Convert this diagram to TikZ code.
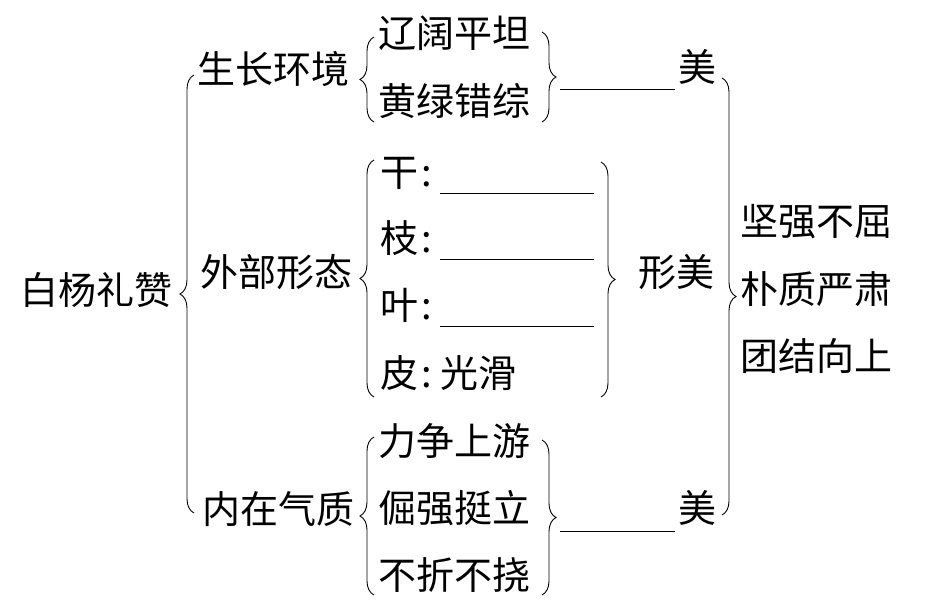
\documentclass[tikz,border=0pt]{standalone}
\usepackage{fontspec}
\newfontfamily\cjk{Noto Sans CJK SC}
\usetikzlibrary{decorations.pathreplacing}

\tikzset{
  word/.style={anchor=base west, inner sep=0pt, font=\cjk\fontsize{38}{40}\selectfont},
  colon/.style={anchor=base, inner sep=0pt, font=\cjk\fontsize{38}{40}\selectfont},
  bracel/.style={decorate, decoration={brace, amplitude=14pt}, line width=0.9pt},
  blank/.style={line width=0.9pt},
}

\begin{document}
\begin{tikzpicture}[x=1pt,y=-1pt]
\useasboundingbox (0,0) rectangle (925,608);
% root and first level
\node[word] (root) at (20,304) {白杨礼赞};
\node[word] (env) at (197,83) {生长环境};
\node[word] (shape) at (200,286) {外部形态};
\node[word] (inner) at (202,523) {内在气质};
\draw[bracel] (194,513) -- (194,75);
% environment
\node[word] (wide) at (378,47) {辽阔平坦};
\node[word] (mixed) at (378,115) {黄绿错综};
\draw[bracel] (374,122) -- (374,37);
\draw[bracel] (542,32) -- (542,122);
\node[word] (mei1) at (678,81) {美};
\draw[blank] (mei1.base west) ++(-3,8) -- ++(-115,0);
% outer shape
\node[word] (gan) at (380,186) {干};
\node[word] (zhi) at (380,252) {枝};
\node[word] (ye) at (380,319) {叶};
\node[word] (pi) at (380,387) {皮};
\node[colon] (ganc) at (427,186) {:};
\node[colon] (zhic) at (427,252) {:};
\node[colon] (yec) at (427,319) {:};
\node[colon] (pic) at (427,387) {:};
\foreach \k in {ganc,zhic,yec} {
  \draw[blank] (\k.base) ++(13,7) -- ++(154,0);
}
\node[word] (smooth) at (440,387) {光滑};
\draw[bracel] (374,397) -- (374,160);
\draw[bracel] (601,162) -- (601,397);
\node[word] (xingmei) at (638,286) {形美};
% inner quality
\node[word] (strive) at (378,455) {力争上游};
\node[word] (stand) at (378,522) {倔强挺立};
\node[word] (unbent) at (378,589) {不折不挠};
\draw[bracel] (374,595) -- (374,437);
\draw[bracel] (542,440) -- (542,595);
\node[word] (mei2) at (678,522) {美};
\draw[blank] (mei2.base west) ++(-3,9) -- ++(-115,0);
% spirit
\draw[bracel] (722,78) -- (722,515);
\node[word] (firm) at (740,235) {坚强不屈};
\node[word] (plain) at (740,303) {朴质严肃};
\node[word] (unite) at (740,370) {团结向上};
\end{tikzpicture}
\end{document}
